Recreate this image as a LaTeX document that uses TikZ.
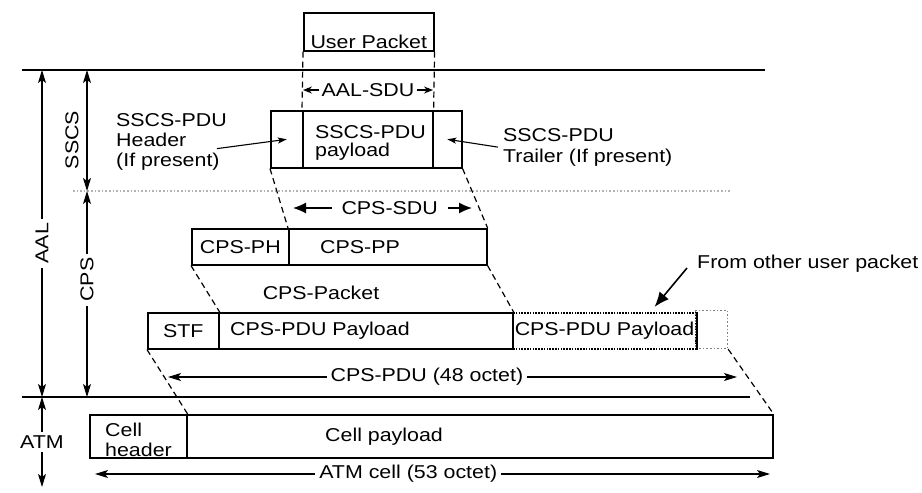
\documentclass[tikz,border=0pt]{standalone}
\usepackage{fontspec}
\setmainfont{Liberation Sans}[FakeStretch=1.15]
\usetikzlibrary{arrows.meta, positioning}

\begin{document}
\begin{tikzpicture}[
  x=1pt, y=-1pt,
  every node/.style={font=\fontsize{18.6}{20}\selectfont, inner sep=0pt},
  seg/.style={draw, line width=1.6pt, anchor=north west, inner sep=0pt},
  layer/.style={line width=1.6pt},
  dotln/.style={gray!60, line width=1.6pt, dotted},
  dashln/.style={line width=1.2pt, dash pattern=on 6pt off 4pt},
  dim/.style={{Stealth[length=13pt, width=8pt, inset=3pt]}-{Stealth[length=13pt, width=8pt, inset=3pt]}, line width=1.1pt},
  sdu/.style={{Latex[length=13pt, width=11pt]}-{Latex[length=13pt, width=11pt]}, line width=1.2pt},
  ptr/.style={-{Stealth[length=9pt, width=6pt, inset=2pt]}, line width=1.1pt},
  gap/.style={fill=white, inner xsep=4pt, inner ysep=2pt}
]
  \useasboundingbox (0,0) rectangle (922,493);

  % layer boundaries
  \coordinate (l1L) at (22,70);  \coordinate (l1R) at (765,70);
  \coordinate (dotL) at (73,191); \coordinate (dotR) at (730,191);
  \coordinate (l2L) at (22,397); \coordinate (l2R) at (750,397);
  \draw[layer] (l1L) -- (l1R);
  \draw[dotln] (dotL) -- (dotR);
  \draw[layer] (l2L) -- (l2R);

  % layer arrows on the left
  \coordinate (aalT) at (42,70);  \coordinate (aalB) at (42,397);
  \coordinate (ssT) at (87,70);   \coordinate (ssB) at (87,191);
  \coordinate (cpsB) at (87,397); \coordinate (atmB) at (42,487);
  \draw[dim] (aalT) -- node[gap, rotate=90, pos=0.53] (aallbl) {AAL} (aalB);
  \draw[dim] (ssT) -- (ssB);
  \node[rotate=90] (sslbl) at (72,140) {SSCS};
  \draw[dim] (ssB) -- node[gap, rotate=90, pos=0.43] (cpslbl) {CPS} (cpsB);
  \draw[dim] (aalB) -- node[gap, inner xsep=0pt, inner ysep=4pt] (atmlbl) {ATM} (atmB);

  % user packet
  \node[seg, minimum width=130, minimum height=38] (user) at (303,12) {};
  \node[above=3pt of user.south] (userlbl) {User Packet};

  % SSCS-PDU
  \node[seg, minimum width=32, minimum height=57] (sshdr) at (270,110) {};
  \node[seg, minimum width=130, minimum height=57] (sspay) at (302,110) {};
  \node[seg, minimum width=29, minimum height=57] (sstrl) at (432,110) {};
  \node[align=left, anchor=north west] (paylbl) at (315,125) {SSCS-PDU\\[-2pt]payload};
  \draw[dashln] (user.south west) -- (sspay.north west);
  \draw[dashln] (user.south east) -- (sspay.north east);
  \coordinate (sduL) at (303,90); \coordinate (sduR) at (433,90);
  \draw[dim, {Stealth[length=9pt, width=7pt, inset=3pt]}-{Stealth[length=9pt, width=7pt, inset=3pt]}] (sduL) -- node[gap, inner xsep=3pt] (sdulbl) {AAL-SDU} (sduR);

  \node[align=left, anchor=north west] (hdrtxt) at (116,113) {SSCS-PDU\\Header\\(If present)};
  \draw[ptr] ([xshift=-10pt, yshift=-7pt]hdrtxt.east) -- (sshdr.center);
  \node[align=left, anchor=north west] (trltxt) at (503,128) {SSCS-PDU\\[1pt]Trailer (If present)};
  \draw[ptr] ([xshift=-5pt]trltxt.west) -- (sstrl.center);

  % CPS packet
  \coordinate (csduL) at (293,208); \coordinate (csduR) at (472,208);
  \draw[sdu] (csduL) -- node[gap, inner xsep=10pt, pos=0.54] (csdulbl) {CPS-SDU} (csduR);
  \node[seg, minimum width=97, minimum height=36] (ph) at (191,228) {CPS-PH};
  \node[seg, minimum width=198, minimum height=36] (pp) at (288,228) {};
  \node[right=32pt of pp.west] (pplbl) {CPS-PP};
  \draw[dashln] (sshdr.south west) -- (pp.north west);
  \draw[dashln] (sstrl.south east) -- (pp.north east);
  \node (pktlbl) at (321,293) {CPS-Packet};

  % CPS-PDU
  \node[seg, minimum width=71, minimum height=36] (stf) at (147,312) {STF};
  \node[seg, minimum width=294, minimum height=36] (pdupay) at (218,312) {};
  \node[right=12pt of pdupay.west] (pdulbl) {CPS-PDU Payload};
  \node[seg, line width=2pt, dash pattern=on 1.6pt off 1.2pt, minimum width=183, minimum height=36] (other) at (512,312) {CPS-PDU Payload};
  \node[seg, gray, dotted, line width=1.2pt, minimum width=32, minimum height=38] (pad) at (695,310) {};
  \draw[line width=1.6pt] (other.north east) -- (other.south east);
  \draw[dashln] (ph.south west) -- (stf.north east);
  \draw[dashln] (pp.south east) -- (pdupay.north east);
  \node[anchor=west] (fromtxt) at (697,264) {From other user packet};
  \draw[-{Latex[length=15pt, width=12pt]}, line width=1.6pt] ([xshift=-10pt, yshift=-4pt]fromtxt.west) -- ([xshift=50pt, yshift=5pt]other.north);
  \coordinate (cpduL) at (168,377); \coordinate (cpduR) at (737,377);
  \draw[dim] (cpduL) -- node[gap, pos=0.455] (cpdulbl) {CPS-PDU (48 octet)} (cpduR);

  % ATM cell
  \node[seg, minimum width=97, minimum height=43] (cellhdr) at (89,414) {};
  \node[seg, minimum width=586, minimum height=43] (cellpay) at (186,414) {};
  \node[align=left, anchor=north west] (hdrlbl) at (105,423) {Cell\\header};
  \node[right=139pt of cellpay.west] (cellpaylbl) {Cell payload};
  \draw[dashln] (stf.south west) -- (cellhdr.north east);
  \draw[dashln] (pad.south east) -- (cellpay.north east);
  \coordinate (cellL) at (95,474); \coordinate (cellR) at (770,474);
  \draw[dim] (cellL) -- node[gap, pos=0.464] (celllbl) {ATM cell (53 octet)} (cellR);
\end{tikzpicture}
\end{document}
